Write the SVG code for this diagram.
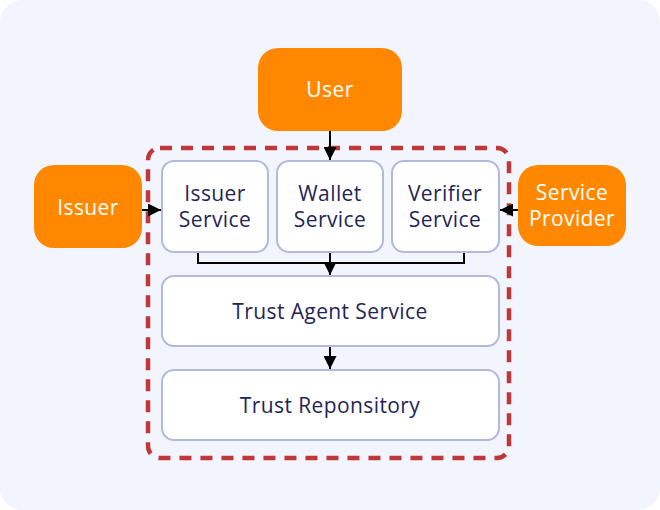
<svg xmlns="http://www.w3.org/2000/svg" width="660" height="510" viewBox="0 0 660 510">
<defs>
<style>
.bg{fill:#f2f5fe}
.actor{fill:#ff8800}
.svc{fill:#ffffff;stroke:#b3b9da;stroke-width:2}
.at{fill:#ffffff;font-family:"Open Sans","Noto Sans",sans-serif;font-size:21px;font-weight:500;letter-spacing:0.4px;text-anchor:middle}
.st{fill:#1f2657;font-family:"Open Sans","Noto Sans",sans-serif;font-size:21px;font-weight:500;letter-spacing:0.4px;text-anchor:middle}
.con{fill:none;stroke:#000;stroke-width:2}
</style>
<marker id="ah" viewBox="0 0 10 10" refX="10" refY="5" markerWidth="13" markerHeight="13" orient="auto" markerUnits="userSpaceOnUse">
<path d="M0,0 L10,5 L0,10 z" fill="#000"/>
</marker>
</defs>
<rect class="bg" x="0" y="0" width="660" height="510" rx="22"/>
<rect x="148" y="148" width="361" height="310" rx="12" fill="none" stroke="#c0373a" stroke-width="4.5" stroke-dasharray="12 9"/>
<g id="connectors">
<line class="con" x1="330" y1="131" x2="330" y2="160" marker-end="url(#ah)"/>
<line class="con" x1="142" y1="210" x2="161" y2="210" marker-end="url(#ah)"/>
<line class="con" x1="518" y1="210" x2="500" y2="210" marker-end="url(#ah)"/>
<polyline class="con" points="198,252 198,263 464,263 464,252"/>
<line class="con" x1="330" y1="252" x2="330" y2="275" marker-end="url(#ah)"/>
<line class="con" x1="330" y1="346" x2="330" y2="369" marker-end="url(#ah)"/>
</g>
<g id="user">
<rect class="actor" x="258" y="48" width="144" height="83" rx="20"/>
<text class="at" x="330" y="97">User</text>
</g>
<g id="issuer">
<rect class="actor" x="34" y="165" width="108" height="83" rx="20"/>
<text class="at" x="88" y="215">Issuer</text>
</g>
<g id="service-provider">
<rect class="actor" x="518" y="165" width="108" height="81" rx="20"/>
<text class="at" x="572" y="200">Service</text>
<text class="at" x="572" y="226">Provider</text>
</g>
<g id="issuer-service">
<rect class="svc" x="162" y="161" width="106" height="91" rx="12"/>
<text class="st" x="215" y="201">Issuer</text>
<text class="st" x="215" y="227">Service</text>
</g>
<g id="wallet-service">
<rect class="svc" x="277" y="161" width="106" height="91" rx="12"/>
<text class="st" x="330" y="201">Wallet</text>
<text class="st" x="330" y="227">Service</text>
</g>
<g id="verifier-service">
<rect class="svc" x="392" y="161" width="107" height="91" rx="12"/>
<text class="st" x="445" y="201">Verifier</text>
<text class="st" x="445" y="227">Service</text>
</g>
<g id="trust-agent-service">
<rect class="svc" x="162" y="276" width="337" height="70" rx="12"/>
<text class="st" x="330" y="319">Trust Agent Service</text>
</g>
<g id="trust-repository">
<rect class="svc" x="162" y="370" width="337" height="70" rx="12"/>
<text class="st" x="330" y="413">Trust Reponsitory</text>
</g>
</svg>
